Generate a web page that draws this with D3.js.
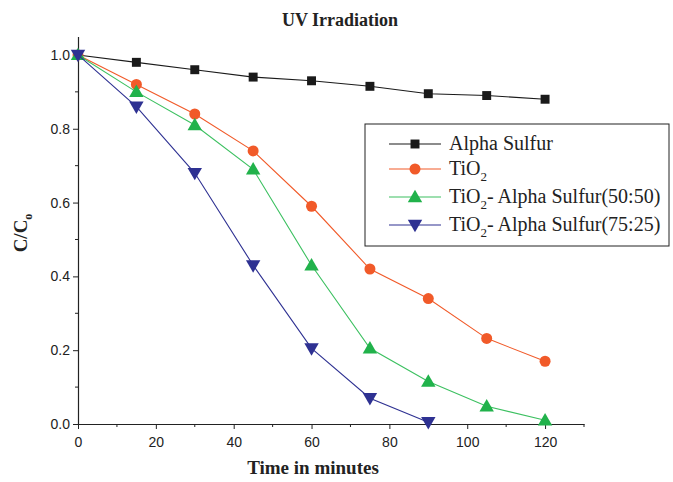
<!DOCTYPE html>
<html>
<head>
<meta charset="utf-8">
<script src="https://cdn.jsdelivr.net/npm/d3@7"></script>
<style>
body { margin: 0; background: #fff; }
</style>
</head>
<body>
<svg id="chart" width="673" height="482"></svg>
<script>
// data
var times = [0, 15, 30, 45, 60, 75, 90, 105, 120];
var alphaSulfur = [1.0, 0.98, 0.96, 0.94, 0.93, 0.915, 0.895, 0.89, 0.88];
var tio2 = [1.0, 0.92, 0.84, 0.74, 0.59, 0.42, 0.34, 0.232, 0.17];
var mix5050 = [1.0, 0.90, 0.81, 0.69, 0.43, 0.205, 0.115, 0.048, 0.01];
var mix7525 = [1.0, 0.86, 0.68, 0.43, 0.205, 0.07, 0.005];
var xTicks = [0, 20, 40, 60, 80, 100, 120];
var yTicks = [0.0, 0.2, 0.4, 0.6, 0.8, 1.0];

var series = [
	{ name: "Alpha Sulfur", vals: alphaSulfur, color: "#1a1a1a", line: "#1a1a1a", sym: "square" },
	{ name: "TiO2", vals: tio2, color: "#f15a29", line: "#f15a29", sym: "circle" },
	{ name: "TiO2- Alpha Sulfur(50:50)", vals: mix5050, color: "#21b24b", line: "#3cc060", sym: "up" },
	{ name: "TiO2- Alpha Sulfur(75:25)", vals: mix7525, color: "#2e3192", line: "#2e3192", sym: "down" }
];

var svg = d3.select("#chart");
var x = d3.scaleLinear().domain([0, 130]).range([78, 584]);
var y = d3.scaleLinear().domain([0, 1.05]).range([424, 36.5]);

// axes
var xAxis = d3.axisBottom(x).tickValues(xTicks).tickSize(5).tickSizeOuter(0).tickFormat(d3.format("d"));
var gx = svg.append("g").attr("transform", "translate(0,424)").call(xAxis);
gx.selectAll("g.minor").data(d3.range(10, 131, 20)).enter().append("line")
	.attr("x1", function(d) { return x(d); }).attr("x2", function(d) { return x(d); })
	.attr("y1", 0).attr("y2", 3).attr("stroke", "#222");

var yAxis = d3.axisLeft(y).tickValues(yTicks).tickSize(5).tickSizeOuter(0).tickFormat(d3.format(".1f"));
var gy = svg.append("g").attr("transform", "translate(78,0)").call(yAxis);
gy.selectAll("line.minor").data([0.1, 0.3, 0.5, 0.7, 0.9]).enter().append("line")
	.attr("class", "minor")
	.attr("x1", 0).attr("x2", -3)
	.attr("y1", function(d) { return y(d); }).attr("y2", function(d) { return y(d); })
	.attr("stroke", "#222");

[gx, gy].forEach(function(g) {
	g.select(".domain").attr("stroke", "#222").attr("stroke-width", 1.2);
	g.selectAll(".tick line").attr("stroke", "#222");
	g.selectAll("text").attr("font-family", "Liberation Sans, Arial, sans-serif")
		.attr("font-size", 14).attr("fill", "#222");
});
gx.selectAll("text").attr("dy", "1.1em");

function symPath(sym, cx, cy) {
	var s;
	if (sym === "square") s = d3.symbol(d3.symbolSquare, 80);
	else if (sym === "circle") s = d3.symbol(d3.symbolCircle, 95);
	else s = d3.symbol(d3.symbolTriangle, 90);
	var rot = sym === "down" ? " rotate(180)" : "";
	return { d: s(), t: "translate(" + cx + "," + cy + ")" + rot };
}

var line = d3.line().x(function(d, i) { return x(times[i]); }).y(function(d) { return y(d); });

series.forEach(function(s) {
	var g = svg.append("g");
	g.append("path").attr("d", line(s.vals)).attr("fill", "none")
		.attr("stroke", s.line).attr("stroke-width", 1.1);
	g.selectAll("path.pt").data(s.vals).enter().append("path")
		.attr("class", "pt")
		.attr("d", function(d, i) { return symPath(s.sym, x(times[i]), y(d)).d; })
		.attr("transform", function(d, i) { return symPath(s.sym, x(times[i]), y(d) + (s.sym === "up" ? 1 : s.sym === "down" ? -1 : 0)).t; })
		.attr("fill", s.color);
});

// title + axis labels
svg.append("text").attr("x", 340).attr("y", 26).attr("text-anchor", "middle")
	.attr("font-family", "Liberation Serif, Times New Roman, serif").attr("font-weight", "bold")
	.attr("font-size", 18).attr("fill", "#222").text("UV Irradiation");
svg.append("text").attr("x", 313).attr("y", 474).attr("text-anchor", "middle")
	.attr("font-family", "Liberation Serif, Times New Roman, serif").attr("font-weight", "bold")
	.attr("font-size", 19).attr("fill", "#222").text("Time in minutes");
var yl = svg.append("text").attr("transform", "translate(27,233) rotate(-90)").attr("text-anchor", "middle")
	.attr("font-family", "Liberation Serif, Times New Roman, serif").attr("font-weight", "bold")
	.attr("font-size", 19).attr("fill", "#222");
yl.append("tspan").text("C/C");
yl.append("tspan").attr("font-size", 12).attr("dy", 5).text("o");

// legend
var lg = svg.append("g");
lg.append("rect").attr("x", 365).attr("y", 124).attr("width", 304).attr("height", 122)
	.attr("fill", "#fff").attr("stroke", "#222").attr("stroke-width", 1);
var rowY = [144, 169, 197, 225];
series.forEach(function(s, i) {
	var yy = rowY[i];
	lg.append("line").attr("x1", 389).attr("x2", 441).attr("y1", yy).attr("y2", yy)
		.attr("stroke", s.line).attr("stroke-width", 1.2);
	var p = symPath(s.sym, 415, yy + (s.sym === "up" ? 1 : s.sym === "down" ? -1 : 0));
	lg.append("path").attr("d", p.d).attr("transform", p.t).attr("fill", s.color);
	var t = lg.append("text").attr("x", 449).attr("y", yy + 6)
		.attr("font-family", "Liberation Serif, Times New Roman, serif")
		.attr("font-size", 20).attr("fill", "#222");
	if (s.name.indexOf("TiO2") === 0) {
		t.append("tspan").text("TiO");
		t.append("tspan").attr("font-size", 13).attr("dy", 6).text("2");
		t.append("tspan").attr("dy", -6).text(s.name.slice(4));
	} else {
		t.text(s.name);
	}
});
</script>
</body>
</html>
